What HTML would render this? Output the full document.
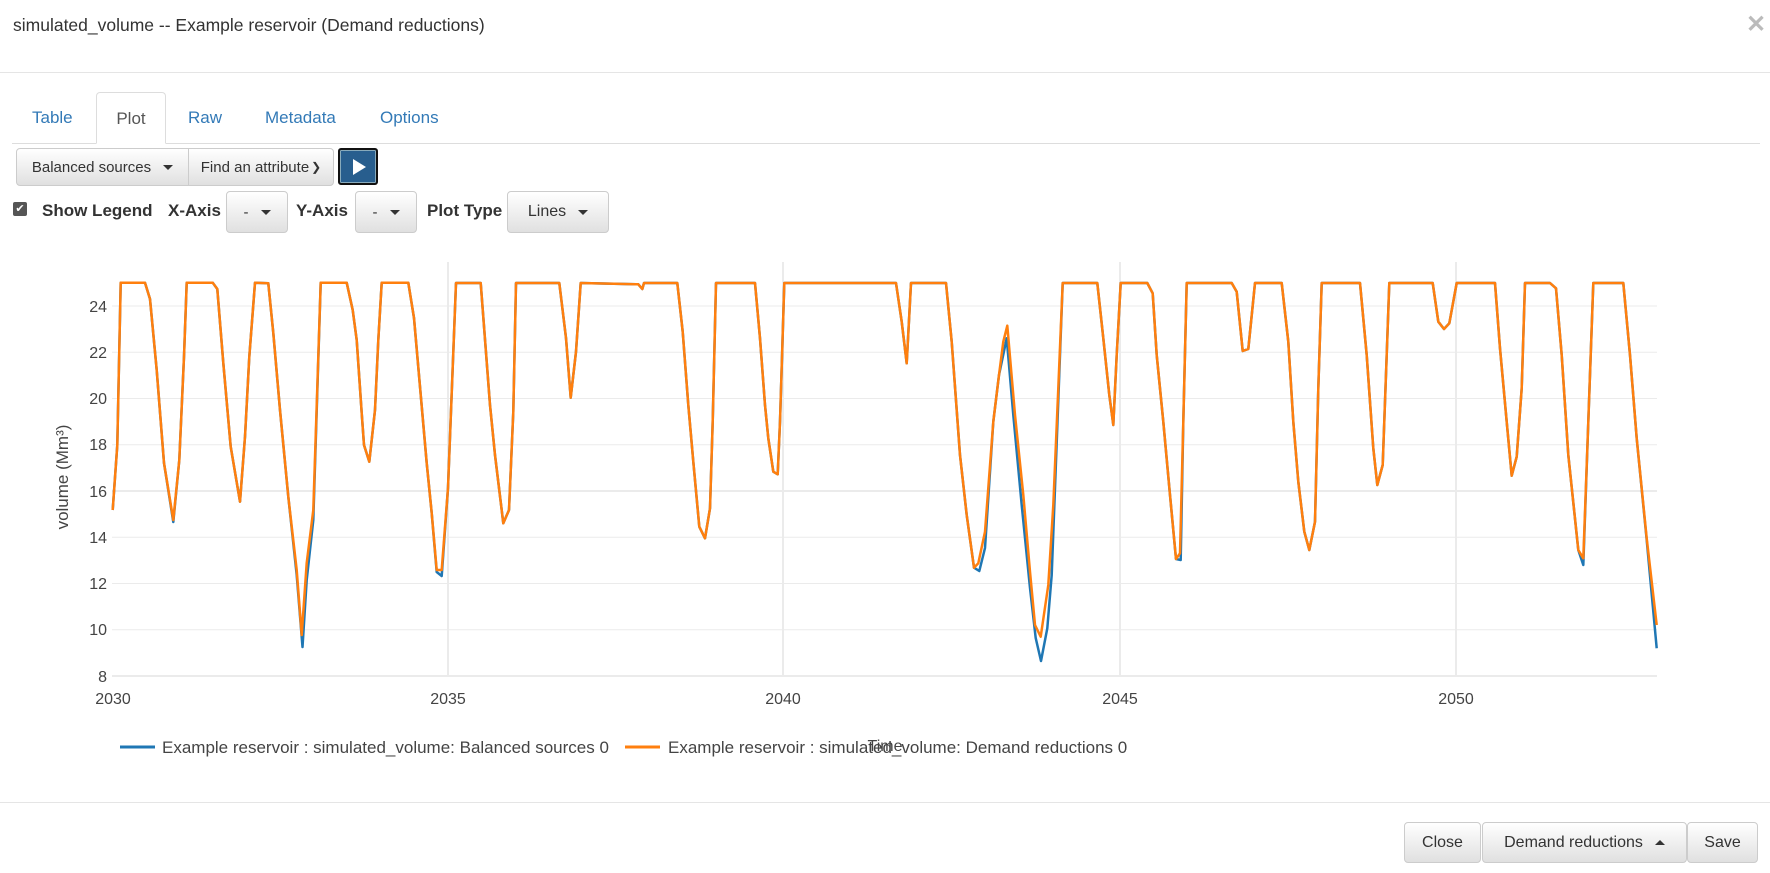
<!DOCTYPE html>
<html><head><meta charset="utf-8"><style>
*{box-sizing:border-box}
body{margin:0;width:1770px;height:873px;background:#fff;font-family:"Liberation Sans",Arial,sans-serif;color:#333;position:relative;overflow:hidden}
.a{position:absolute}
.btn{position:absolute;border:1px solid #ccc;border-radius:4px;background:linear-gradient(#fff,#e0e0e0);font-size:15px;color:#333;display:flex;align-items:center;justify-content:center}
.car{display:inline-block;width:0;height:0;border-left:5px solid transparent;border-right:5px solid transparent;border-top:5px solid #333;margin-left:12px}
.tab{position:absolute;top:92px;height:51px;line-height:51px;font-size:17px;color:#337ab7}
</style></head><body>
<div class="a" style="left:13px;top:15px;font-size:17.5px;color:#333">simulated_volume -- Example reservoir (Demand reductions)</div>
<div class="a" style="left:1746px;top:10px;font-size:24px;color:#bbb;font-weight:bold">✕</div>
<div class="a" style="left:0;top:72px;width:1770px;height:1px;background:#e5e5e5"></div>

<div class="a" style="left:12px;top:143px;width:1748px;height:1px;background:#ddd"></div>
<div class="tab" style="left:32px">Table</div>
<div class="a" style="left:96px;top:92px;width:70px;height:52px;border:1px solid #ddd;border-bottom:1px solid #fff;border-radius:4px 4px 0 0;background:#fff;text-align:center;line-height:51px;font-size:17px;color:#555">Plot</div>
<div class="tab" style="left:188px">Raw</div>
<div class="tab" style="left:265px">Metadata</div>
<div class="tab" style="left:380px">Options</div>

<div class="btn" style="left:16px;top:148px;width:173px;height:38px;border-radius:4px 0 0 4px">Balanced sources<span class="car"></span></div>
<div class="btn" style="left:188px;top:148px;width:146px;height:38px;border-radius:0 4px 4px 0">Find an attribute<span style="font-size:12px;margin-left:2px">❯</span></div>
<div class="a" style="left:338px;top:148px;width:40px;height:37px;background:#285e8e;border:2px solid #111;border-radius:3px;box-shadow:inset 0 0 0 1px #8ab"><div class="a" style="left:13px;top:9px;width:0;height:0;border-top:8px solid transparent;border-bottom:8px solid transparent;border-left:13px solid #fff"></div></div>

<div class="a" style="left:13px;top:202px;width:14px;height:14px;background:#555;border-radius:2px;color:#fff;font-size:11px;line-height:14px;text-align:center">✔</div>
<div class="a" style="left:42px;top:201px;font-size:17px;font-weight:bold;color:#333">Show Legend</div>
<div class="a" style="left:168px;top:201px;font-size:17px;font-weight:bold;color:#333">X-Axis</div>
<div class="btn" style="left:226px;top:191px;width:62px;height:42px">-<span class="car"></span></div>
<div class="a" style="left:296px;top:201px;font-size:17px;font-weight:bold;color:#333">Y-Axis</div>
<div class="btn" style="left:355px;top:191px;width:62px;height:42px">-<span class="car"></span></div>
<div class="a" style="left:427px;top:201px;font-size:17px;font-weight:bold;color:#333">Plot Type</div>
<div class="btn" style="left:507px;top:191px;width:102px;height:42px;font-size:16px">Lines<span class="car"></span></div>

<svg class="a" style="left:0;top:0" width="1770" height="873" font-family="Liberation Sans, Arial, sans-serif">
<g stroke="#ebebeb" stroke-width="1">
<line x1="112" x2="1657" y1="306" y2="306"/><line x1="112" x2="1657" y1="352.3" y2="352.3"/>
<line x1="112" x2="1657" y1="398.5" y2="398.5"/><line x1="112" x2="1657" y1="444.8" y2="444.8"/>
<line x1="112" x2="1657" y1="491" y2="491" stroke-width="2"/><line x1="112" x2="1657" y1="537.3" y2="537.3"/>
<line x1="112" x2="1657" y1="583.5" y2="583.5"/><line x1="112" x2="1657" y1="629.8" y2="629.8"/>
<line x1="112" x2="1657" y1="676" y2="676" stroke-width="2"/>
<line x1="448" x2="448" y1="262" y2="676" stroke-width="2"/><line x1="783" x2="783" y1="262" y2="676" stroke-width="2"/>
<line x1="1120" x2="1120" y1="262" y2="676" stroke-width="2"/><line x1="1456" x2="1456" y1="262" y2="676" stroke-width="2"/>
</g>
<g fill="#444" font-size="16" text-anchor="end">
<text x="107" y="312">24</text><text x="107" y="358">22</text><text x="107" y="404">20</text>
<text x="107" y="450">18</text><text x="107" y="497">16</text><text x="107" y="543">14</text>
<text x="107" y="589">12</text><text x="107" y="635">10</text><text x="107" y="682">8</text>
</g>
<g fill="#444" font-size="16" text-anchor="middle">
<text x="113" y="704">2030</text><text x="448" y="704">2035</text><text x="783" y="704">2040</text>
<text x="1120" y="704">2045</text><text x="1456" y="704">2050</text>
<text x="885" y="751">Time</text>
</g>
<text transform="translate(68,477) rotate(-90)" fill="#444" font-size="17" text-anchor="middle">volume (Mm³)</text>

<polyline fill="none" stroke="#1f77b4" stroke-width="2.5" stroke-linejoin="round" points="112.7,510 117.3,445 120.7,282.7 145,282.7 150,299 156.7,370 164,463 173.3,522 179.3,460 184,356.7 186.7,282.7 212.7,282.7 217.3,289 223.3,363 230.7,446.7 240,501.7 245,436.7 249.3,356.7 255,282.7 268.3,283.3 273.3,333 280,410 288.3,496.7 296.7,575 302.5,647 306.7,580 313.3,520 320.7,282.7 346.7,282.7 352.7,310 356.7,340 361.7,413 364,445 369.3,461.7 375,410 378.3,340 381.7,282.7 408.3,282.7 414,318 420,386.7 426.7,463 431.7,513 436.7,572 441.7,576 448,488 456,283 480.7,283 490,405 495,455 503.3,523.3 509,510 513.3,411.7 516,283 559.3,283 566,338 570.7,397.7 576,351.7 580.7,283 638.3,284.3 642.3,289 644,283 677.3,283 682.7,331.7 688.3,405 693.3,461.7 699.3,526.7 705,538.3 710,508.3 712.7,421.7 716,283 755,283 760,338.3 765,405 768.3,438.3 773.3,471.7 777.7,474.3 780,421.7 784.3,283 896,283 901.7,321.7 906.7,363.3 911,283 946,283 951.7,341.7 960,455 966.7,515 974,567.7 979.3,571 985,548 993.3,421.7 999,375 1006.7,338.3 1013.3,415 1021.7,505 1030,588 1035.7,638 1041,661 1047.3,628.3 1051.7,575 1055,488 1060,355 1062.7,283 1097.3,283 1103.3,338.3 1109.3,395 1113.3,425 1116.7,355 1120.7,283 1147.3,283 1152.7,293.3 1156.7,355 1163.3,421.7 1170,495 1176,559 1180.7,560 1183.3,421.7 1186.7,283 1231.7,283 1236.7,291.7 1242.7,351 1248.3,349 1255,283 1281.7,283 1288.3,341.7 1293.3,421.7 1298.3,481.7 1304.3,531.7 1309.3,550 1315,521.7 1318.3,388.3 1321.7,283 1360,283 1366.7,355 1373.3,448.3 1377.3,485 1382.7,465 1386.7,355 1389.3,283 1432.7,283 1438.3,321.7 1444,329 1449.3,323.3 1456.7,283 1495,283 1500,348.3 1506.7,421.7 1511.7,475.7 1516.7,456.7 1521.7,388.3 1525,283 1550,283 1556,288.3 1561.7,355 1568.3,455 1578.3,550 1583.3,565 1588.3,421.7 1593.3,283 1623.3,283 1630,355 1636.7,438.3 1646.7,540 1656.7,648.3"/>
<polyline fill="none" stroke="#ff7f0e" stroke-width="2.5" stroke-linejoin="round" points="112.7,510 117.3,445 120.7,282.7 145,282.7 150,299 156.7,370 164,463 173.3,520 179.3,460 184,356.7 186.7,282.7 212.7,282.7 217.3,289 223.3,363 230.7,446.7 240,501.7 245,436.7 249.3,356.7 255,282.7 268.3,283.3 273.3,333 280,410 288.3,496.7 296.7,570 301.7,635 306.7,563 313.3,510 320.7,282.7 346.7,282.7 352.7,310 356.7,340 361.7,413 364,445 369.3,461.7 375,410 378.3,340 381.7,282.7 408.3,282.7 414,318 420,386.7 426.7,463 431.7,513 436.7,570 441.7,570 448,488 456,283 480.7,283 490,405 495,455 503.3,523.3 509,510 513.3,411.7 516,283 559.3,283 566,338 570.7,397.7 576,351.7 580.7,283 638.3,284.3 642.3,289 644,283 677.3,283 682.7,331.7 688.3,405 693.3,461.7 699.3,526.7 705,538.3 710,508.3 712.7,421.7 716,283 755,283 760,338.3 765,405 768.3,438.3 773.3,471.7 777.7,474.3 780,421.7 784.3,283 896,283 901.7,321.7 906.7,363.3 911,283 946,283 951.7,341.7 960,455 966.7,515 974,567.7 978.3,563.3 985,531.7 993.3,421.7 999,375 1003.3,341.7 1007.3,325.7 1015,415 1023.3,495 1030,571.7 1035,625 1040.7,636.7 1048.3,585 1053.3,505 1058.3,388 1062.7,283 1097.3,283 1103.3,338.3 1109.3,395 1113.3,425 1116.7,355 1120.7,283 1147.3,283 1152.7,293.3 1156.7,355 1163.3,421.7 1170,495 1176,559 1180,553.3 1183.3,421.7 1186.7,283 1231.7,283 1236.7,291.7 1242.7,351 1248.3,349 1255,283 1281.7,283 1288.3,341.7 1293.3,421.7 1298.3,481.7 1304.3,531.7 1309.3,550 1315,521.7 1318.3,388.3 1321.7,283 1360,283 1366.7,355 1373.3,448.3 1377.3,485 1382.7,465 1386.7,355 1389.3,283 1432.7,283 1438.3,321.7 1444,329 1449.3,323.3 1456.7,283 1495,283 1500,348.3 1506.7,421.7 1511.7,475.7 1516.7,456.7 1521.7,388.3 1525,283 1550,283 1556,288.3 1561.7,355 1568.3,455 1578.3,550 1583.3,558.3 1588.3,421.7 1593.3,283 1623.3,283 1630,355 1636.7,438.3 1646.7,538.3 1656.7,625"/>

<line x1="120" x2="155" y1="747" y2="747" stroke="#1f77b4" stroke-width="3"/>
<text x="162" y="753" fill="#444" font-size="17">Example reservoir : simulated_volume: Balanced sources 0</text>
<line x1="625" x2="660" y1="747" y2="747" stroke="#ff7f0e" stroke-width="3"/>
<text x="668" y="753" fill="#444" font-size="17">Example reservoir : simulated_volume: Demand reductions 0</text>
</svg>

<div class="a" style="left:0;top:802px;width:1770px;height:1px;background:#e5e5e5"></div>
<div class="btn" style="left:1404px;top:822px;width:77px;height:41px;font-size:16px">Close</div>
<div class="btn" style="left:1482px;top:822px;width:205px;height:41px;font-size:16px">Demand reductions<span class="car" style="border-top:0;border-bottom:5px solid #333"></span></div>
<div class="btn" style="left:1687px;top:822px;width:71px;height:41px;font-size:16px">Save</div>
</body></html>
